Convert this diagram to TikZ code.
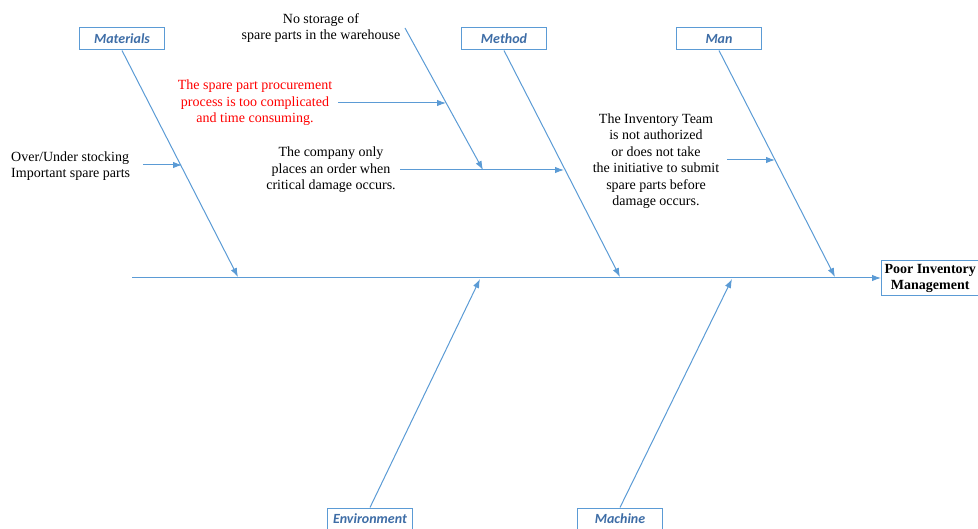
\documentclass[tikz,border=0pt]{standalone}
\usepackage{fontspec}
\setmainfont{Liberation Serif}
\newfontfamily\catfont{Carlito}
\usetikzlibrary{arrows.meta}
\definecolor{bone}{HTML}{5B9BD5}
\definecolor{cattext}{HTML}{3E6DA6}
\tikzset{
  cause/.style={font=\fontsize{14}{16.5}\selectfont, align=center, inner sep=0pt},
  category/.style={draw=bone, line width=1pt, minimum width=85pt, minimum height=22pt,
    inner sep=0pt, text=cattext, font=\catfont\bfseries\itshape\fontsize{14}{15}\selectfont},
  bonearrow/.style={draw=bone, line width=1pt, -{Latex[length=9pt,width=6.5pt]}},
}
\begin{document}
\begin{tikzpicture}[x=1pt,y=-1pt]
  \useasboundingbox (0,0) rectangle (978,529);
  % effect and spine
  \node (effect) [draw=bone, line width=1pt, anchor=west, align=center, inner sep=3pt,
    font=\bfseries\fontsize{14}{16}\selectfont] at (881,278) {Poor Inventory\\Management};
  \coordinate (tail) at (132,278);
  \draw [bonearrow] (tail) -- (effect.west);

  % categories
  \node (mat) [category] at (122,39) {Materials};
  \node (met) [category] at (504,39) {Method};
  \node (man) [category] at (719,39) {Man};
  \node (env) [category] at (370,519) {Environment};
  \node (mac) [category] at (620,519) {Machine};
  \coordinate (matEnd) at (238,277); \coordinate (metEnd) at (620,277);
  \coordinate (manEnd) at (835,277);
  \coordinate (envEnd) at (480,279); \coordinate (macEnd) at (732,279);
  \draw [bonearrow] (mat.south) -- (matEnd);
  \draw [bonearrow] (met.south) -- (metEnd);
  \draw [bonearrow] (man.south) -- (manEnd);
  \draw [bonearrow] (env.north) -- (envEnd);
  \draw [bonearrow] (mac.north) -- (macEnd);

  % causes
  \node (stock) [cause, align=left, anchor=west] at (11,166) {Over/Under stocking\\Important spare parts};
  \node (storage) [cause] at (321,28) {No storage of\\spare parts in the warehouse};
  \node (procure) [cause, text=red] at (255,103) {The spare part procurement\\process is too complicated\\and time consuming.};
  \node (order) [cause] at (331,170) {The company only\\places an order when\\critical damage occurs.};
  \node (team) [cause] at (656,161) {The Inventory Team\\is not authorized\\or does not take\\the initiative to submit\\spare parts before\\damage occurs.};
  \coordinate (stockEnd) at (182,165);
  \coordinate (storeTop) at (405,28); \coordinate (storeEnd) at (483,170);
  \coordinate (procEnd) at (446,103);
  \coordinate (orderEnd) at (564,170);
  \coordinate (teamEnd) at (775,160);
  \draw [bonearrow] (143,165) -- (stockEnd);
  \draw [bonearrow] (storeTop) -- (storeEnd);
  \draw [bonearrow] (338,103) -- (procEnd);
  \draw [bonearrow] (400,170) -- (orderEnd);
  \draw [bonearrow] (727,160) -- (teamEnd);
\end{tikzpicture}
\end{document}
